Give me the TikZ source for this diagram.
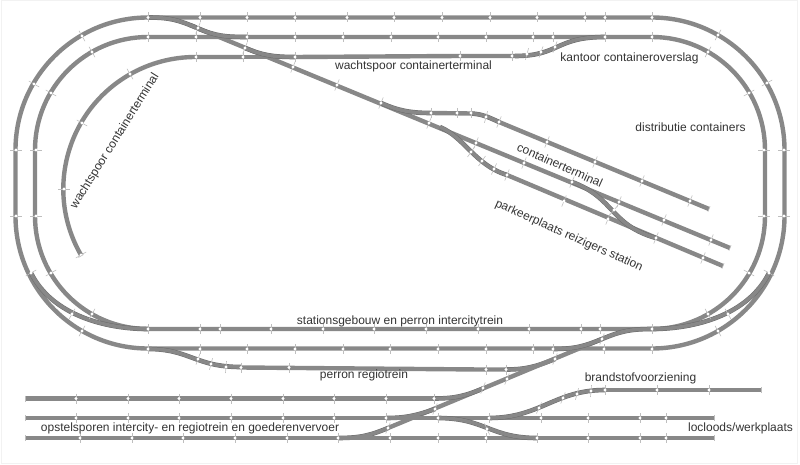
\documentclass[tikz,border=0pt]{standalone}
\usepackage{fontspec}
\setmainfont{Liberation Sans}
\definecolor{railgray}{HTML}{888888}
\definecolor{railedge}{HTML}{6C6C6C}
\definecolor{sleepergray}{HTML}{BEBEBE}
\definecolor{labelgray}{HTML}{333333}
\tikzset{
 track/.style={draw=railgray,line width=4.4pt},
 branch/.style={draw=railedge,double=railgray,line width=.5pt,double distance=3.6pt},
 sleeper/.style={draw=sleepergray,line width=.6pt},
 stud/.style={fill=white},
 label/.style={text=labelgray,font=\fontsize{12}{14}\selectfont,inner sep=0pt}
}
\begin{document}
\begin{tikzpicture}[x=1pt,y=-1pt]
\useasboundingbox (0,0) rectangle (800,465);
\draw[black!5,line width=1pt] (1,1) rectangle (797,463);

% main loops
\draw[track] (148,17.5) -- (652,17.5) arc[start angle=-90,end angle=0,radius=132.5] -- (784.5,216)
 arc[start angle=0,end angle=90,radius=132.5] -- (148,348.5) arc[start angle=90,end angle=180,radius=132.5]
 -- (15.5,150) arc[start angle=180,end angle=270,radius=132.5] -- cycle;
\draw[track] (148,37) -- (652,37) arc[start angle=-90,end angle=0,radius=113] -- (765,216)
 arc[start angle=0,end angle=90,radius=113] -- (148,329) arc[start angle=90,end angle=180,radius=113]
 -- (35,150) arc[start angle=180,end angle=270,radius=113] -- cycle;

% waiting track and the two bays along it
\draw[track] (81,255) arc[start angle=150,end angle=270,radius=132] -- (243,57);
\draw[track] (295,57) -- (460,56) -- (515,56);
\draw[branch] (243,57) -- (295,57);
\draw[branch] (515,56) .. controls (560,56) and (555,37) .. (605,37);

% long diagonal with its sidings
\draw[track] (190,25) -- (730,248);
\draw[branch] (148,17.5) .. controls (170,17.5) and (178,20) .. (196,27.5);
\draw[branch] (198,28.5) .. controls (216,36) and (225,37) .. (247,37);
\draw[branch] (245,48) .. controls (262,55) and (272,57) .. (295,57);
\draw[branch] (381,103) .. controls (398,110.5) and (410,113) .. (431,113);
\draw[track] (431,113) -- (471,113.5);
\draw[branch] (471,113.5) .. controls (482,114) and (488,117) .. (499,122);
\draw[track] (499,122) -- (709,209);
\draw[branch] (440,127) .. controls (465,138) and (475,165) .. (507,175);
\draw[track] (507,175) -- (723,266);
\draw[branch] (572,182) .. controls (615,198) and (610,225) .. (656,238);

% bottom crossovers
\draw[branch] (148,329) .. controls (105,329) and (52,315) .. (31,273);
\draw[branch] (652,329) .. controls (695,329) and (748,315) .. (769,273);
\draw[branch] (148,349) .. controls (190,349) and (195,367) .. (241,367);
\draw[track] (241,367.5) -- (480,369.5) -- (506,369.5);
\draw[branch] (506,369.5) .. controls (525,369.5) and (535,367) .. (555,359);

% freight diagonal
\draw[track] (388,428) -- (602,339);
\draw[branch] (338,438) .. controls (360,438) and (370,435.5) .. (388,428);
\draw[branch] (602,339) .. controls (620,331.5) and (630,329) .. (652,329);
\draw[branch] (553,349) .. controls (575,349) and (585,346) .. (602,339);
\draw[branch] (434,398.5) .. controls (455,398.5) and (465,396) .. (483,388.5);
\draw[branch] (386,418) .. controls (405,418) and (415,416) .. (435,409);

% sidings below
\draw[track] (25,398.5) -- (434,398.5);
\draw[track] (25,418) -- (714,418);
\draw[track] (25,438) -- (714,438);
\draw[branch] (437.7,418) .. controls (485,418) and (490,438) .. (537,438);
\draw[branch] (489,418) .. controls (540,418) and (555,390) .. (605,390);
\draw[track] (605,390) -- (761,390);

% straight joints, row by row
\foreach \y/\xlist in {
 17.5/{148,200,247,295,347,394,442,490,537,585,605,652},
 37/{148,196,247,295,343,391,438,486,533,553,605,652},
 57/{196,243,295},
 56/{460,512},
 329/{148,200,220,271,323,374,426,478,529,581,600,652},
 349/{148,200,247,295,343,390,438,486,533,553,604,652},
 367.5/{241,289},
 369.5/{486,506},
 398.5/{76,128,179,231,283,334,386,434},
 418/{76,128,179,231,283,334,386,438,489,541,588,640,666},
 438/{80,132,183,235,287,338,390,438,486,537,588,640,666},
 390/{605,657,709},
 113/{431,457,471}}
 \foreach \x in \xlist {
 \draw[sleeper,shift={(\x,\y)}] (0,-5) -- (0,5);
 \fill[stud] (\x,\y) circle (1.6);
 }

% joints on curves and diagonals
\foreach \x/\y/\a in {
 82/36/60,34/84/30,92/52/60,51/93/30,16/150/0,36/150/0,16/216/0,36/216/0,
 718/35/-60,767/83/-30,708/52/-60,749/93/-30,784/150/0,764/150/0,784/216/0,764/216/0,
 82/331/-60,31/273/-30,92/314/-60,51/273/-30,72/314/-60,
 718/331/60,769/273/30,708/314/60,749/273/30,728/314/60,
 130/74/60,82/123/30,64/189/0,81/255/-30,
 527/54/105,541/52/110,555/47/110,
 198/28/112,245/48/112,293/67/112,337/85/112,381/103/112,429/123/112,476/143/112,524/163/112,
 572/182/112,619/202/112,664/220/112,711/240/112,
 486/117/105,499/122/112,547/142/112,595/162/112,642/181/112,690/201/112,
 471/152/125,482/161/125,494/169/115,507/175/112,564/201/112,608/219/112,656/238/112,703/258/112,
 614/210/130,
 198/359/110,211/364/105,226/367/95,
 602/339/-68,555/359/-68,507/379/-68,483/388/-68,435/409/-68,388/428/-68,
 487/429/65,539/408/-65,563/398/-68,577/394/-75,591/391/-85}{
 \draw[sleeper,shift={(\x,\y)}] (\a:-6) -- (\a:6);
 \fill[stud] (\x,\y) circle (1.6);
 }

% free ends
\foreach \x/\y/\a in {81/256/-30,730/248/112,709/209/112,723/266/112,25/398.5/90,25/418/90,25/438/90,714/418/90,714/438/90,761/390/90}
 \draw[sleeper,shift={(\x,\y)}] (\a:-3) -- (\a:3);

% labels
\node[label] (wachtspoorright) at (413.5,66) {wachtspoor containerterminal};
\node[label] (kantoor) at (629.5,58) {kantoor containeroverslag};
\node[label] (distributie) at (690.5,127) {distributie containers};
\node[label,rotate=-24] (terminal) at (560,165) {containerterminal};
\node[label,rotate=-24] (parkeerplaats) at (569,236) {parkeerplaats reizigers station};
\node[label,rotate=58] (wachtspoorleft) at (115,141) {wachtspoor containerterminal};
\node[label] (stationsgebouw) at (400,321) {stationsgebouw en perron intercitytrein};
\node[label] (regiotrein) at (364,375.5) {perron regiotrein};
\node[label] (brandstof) at (640.5,378) {brandstofvoorziening};
\node[label] (opstelsporen) at (190,428) {opstelsporen intercity- en regiotrein en goederenvervoer};
\node[label] (locloods) at (740.5,428) {locloods/werkplaats};
\end{tikzpicture}
\end{document}
